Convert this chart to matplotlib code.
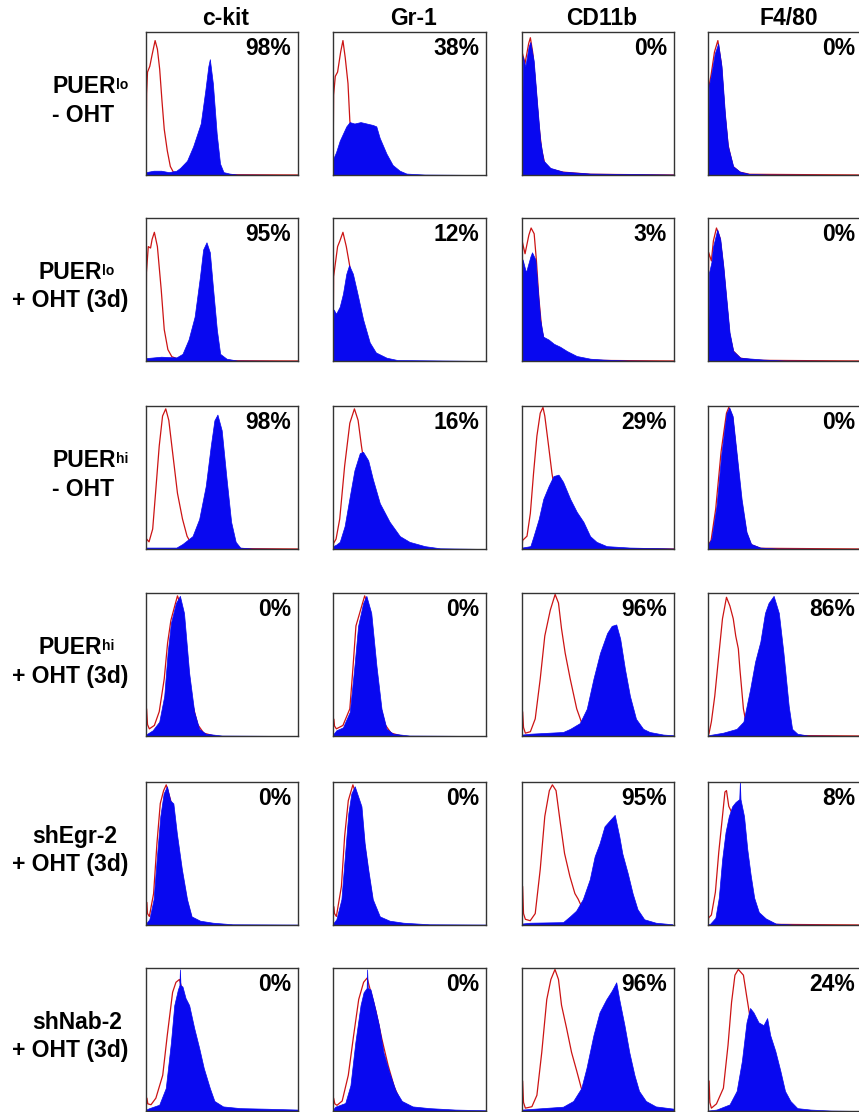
import matplotlib
matplotlib.use("Agg")
import matplotlib.pyplot as plt
from matplotlib.text import Annotation

plt.rcParams['font.family'] = ['Liberation Sans', 'DejaVu Sans']

# column markers and row conditions
markers = ["c-kit", "Gr-1", "CD11b", "F4/80"]
cond_main = ["PUER", "PUER", "PUER", "PUER", "shEgr-2", "shNab-2"]
cond_sup = ["lo", "lo", "hi", "hi", "", ""]
cond_treat = ["- OHT", "+ OHT (3d)", "- OHT", "+ OHT (3d)", "+ OHT (3d)", "+ OHT (3d)"]

# % positive per panel (rows x columns)
percents = [
    ["98%", "38%", "0%", "0%"],
    ["95%", "12%", "3%", "0%"],
    ["98%", "16%", "29%", "0%"],
    ["0%", "0%", "96%", "86%"],
    ["0%", "0%", "95%", "8%"],
    ["0%", "0%", "96%", "24%"],
]

# histograms: (channel %, counts % of max)
# iso = red isotype control outline, stain = blue filled stain
row1_iso = [
    [(0, 0), (0.4, 57), (1, 72), (2.5, 76), (4, 84), (6, 94), (7.5, 88), (9, 74), (10.5, 52), (12, 32), (14, 17), (16, 6), (18, 2), (22, 1), (40, 0.3), (100, 0)],
    [(0, 0), (0.4, 56), (1.5, 69), (3, 72), (5, 86), (6.5, 94), (8, 82), (9.8, 64), (11, 38), (13, 20), (16, 8), (20, 3), (25, 1), (40, 0)],
    [(0, 0), (0.3, 85), (2, 78), (4.4, 92), (5.5, 96), (7, 86), (9, 62), (11, 36), (13, 17), (15, 8), (19, 4), (27, 2), (45, 0.5), (100, 0)],
    [(0, 0), (0.3, 60), (2, 70), (4.2, 86), (6.4, 94), (8.6, 78), (10.8, 45), (13, 21), (16.2, 6), (20.6, 2), (27, 0.5), (100, 0)],
]
row1_stain = [
    [(0, 2), (5, 3), (10, 3), (15, 2), (20, 3), (22.5, 5), (27, 10), (31, 20), (36, 36), (39, 59), (41, 76), (42, 81), (44, 64), (46.5, 29), (48.7, 8), (51, 2), (55, 1), (60, 0.3), (100, 0)],
    [(0, 11), (2, 16), (4.4, 24), (8.7, 34), (10.9, 37), (14, 36), (18, 37), (22, 36), (26, 35), (28.3, 34), (30.5, 26), (34.9, 15), (39, 7), (43.6, 3), (48, 1), (60, 0.3), (100, 0)],
    [(0, 0), (0.5, 83), (2.2, 76), (4.4, 90), (5.5, 93), (7.7, 80), (9.8, 52), (12, 24), (14.2, 10), (18.6, 5), (27, 2.3), (45, 1), (100, 0.3)],
    [(0, 0), (0.5, 62), (2.2, 71), (4.4, 85), (6.6, 92), (8.8, 76), (11, 43), (13, 20), (16.4, 6), (20.8, 2.3), (27, 0.7), (40, 0.3), (100, 0)],
]
row2_iso = [
    [(0, 0), (0.3, 62), (1.5, 80), (3, 79), (4, 85), (5.5, 90), (7.5, 80), (10, 50), (12, 22), (14.4, 8), (17, 3), (22, 1), (40, 0.3), (100, 0)],
    [(0, 0), (0.4, 59), (3, 80), (4.5, 84), (6.5, 90), (8.7, 80), (11, 66), (13, 50), (16, 30), (20, 12), (25, 4), (30, 1), (40, 0)],
    [(0, 0), (0.3, 83), (2, 75), (4.5, 88), (6, 93), (8, 89), (9.5, 70), (11, 45), (13, 22), (15, 12), (20, 6), (30, 2), (40, 0.5), (100, 0)],
    [(0, 0), (0.4, 76), (2.2, 70), (3.5, 84), (5.5, 93), (7.8, 86), (10, 66), (12, 42), (14, 19), (16.4, 7), (21, 2), (30, 0.5), (100, 0)],
]
row2_stain = [
    [(0, 2), (10, 3), (20, 2.5), (24, 5), (28, 15), (32, 31), (35.5, 59), (37.6, 78), (39.8, 83), (42, 76), (44, 52), (46.6, 22), (48.8, 5), (53, 1.6), (60, 0.3), (100, 0)],
    [(0, 0), (0.4, 36), (2, 33), (4.4, 38), (6.5, 47), (8.7, 61), (10.5, 67), (13, 61), (16, 47), (19.7, 29), (24, 13), (28, 6), (35, 2.3), (42, 0.7), (100, 0)],
    [(0, 0), (0.4, 71), (2.6, 62), (5.5, 73), (6.6, 76), (8.8, 71), (10, 55), (12, 29), (14, 17), (17.5, 15), (21, 12), (25, 10), (29.5, 7), (36, 3.5), (45, 1.6), (53.6, 1), (70, 0.3), (100, 0)],
    [(0, 0), (0.7, 62), (2.2, 69), (3.3, 80), (6, 92), (8, 85), (10, 66), (12, 43), (14, 20), (16.4, 7), (21, 2.3), (36, 1), (50, 0.3), (100, 0)],
]
row3_iso = [
    [(0, 0), (0.4, 7), (2, 5), (4.4, 14), (6.5, 42), (8.7, 72), (10.9, 93), (13, 98), (15, 90), (17, 72), (20.7, 39), (24, 21), (27, 9), (30.6, 2), (35, 0.5), (100, 0)],
    [(0, 0), (0.4, 4), (2, 7), (4.4, 21), (7.6, 58), (11, 88), (14, 98), (16.4, 90), (18.6, 72), (21, 55), (24, 38), (28, 20), (33, 8), (38, 2), (45, 0)],
    [(0, 0), (0.4, 6), (3.3, 9), (5.5, 25), (7.6, 53), (9.8, 79), (12, 95), (13.8, 99), (15, 93), (17.5, 72), (19.7, 53), (22, 38), (25, 22), (29, 10), (34, 3), (40, 0.5), (100, 0)],
    [(0, 0), (0.3, 3), (2, 6), (5, 28), (8.5, 68), (12, 95), (13.5, 99), (16, 92), (18.5, 66), (21.5, 34), (25, 11), (28, 3), (34, 0.5), (100, 0)],
]
row3_stain = [
    [(0, 1), (20, 1), (24, 3.5), (30.6, 9), (35, 21), (39.3, 44), (42.6, 72), (45, 90), (47, 94), (49.8, 83), (53, 49), (56, 19), (59, 5), (62, 1), (70, 0.3), (100, 0)],
    [(0, 2), (2, 3), (4.4, 5), (7.6, 16), (11, 37), (14, 55), (17.5, 67), (19.6, 68), (23, 62), (26, 49), (30.6, 32), (37, 19), (43.7, 9), (50, 5), (60, 2), (70, 0.5), (100, 0)],
    [(0, 1), (5.5, 2), (7.6, 9), (11, 21), (14, 35), (17.5, 44), (20.7, 51), (24, 52), (27, 47), (31.7, 35), (36, 26), (40.4, 19), (44.8, 9), (49, 5), (55.7, 2), (71, 1), (93, 0.5), (100, 0.3)],
    [(0, 3), (2.2, 7), (5.5, 30), (8.7, 67), (12, 95), (13.8, 99), (16, 93), (18.6, 67), (21.8, 35), (25, 12), (28, 3.5), (34, 1), (45, 0.3), (100, 0)],
]
row4_iso = [
    [(0, 0), (0.4, 19), (1, 8), (2.2, 5), (5.5, 7.4), (8.7, 17), (12, 40), (14.2, 65), (16.4, 81), (20.7, 98), (24, 88), (27, 55), (30, 25), (34, 8), (38, 2), (45, 0)],
    [(0, 0), (0.4, 12), (1, 7), (2.2, 5), (6.5, 7.4), (11, 19), (13, 47), (15, 77), (20.7, 98), (24, 88), (27, 55), (30, 25), (34, 8), (38, 2), (45, 0)],
    [(0, 0), (0.4, 17), (1, 6), (2.2, 2), (5.5, 3), (8.7, 12), (12, 40), (15, 70), (18.6, 88), (21.8, 99), (24, 93), (26, 75), (28.4, 58), (31.7, 40), (36, 19), (39, 10), (43, 4), (48, 1), (55, 0)],
    [(0, 0), (0.7, 2), (2.2, 10), (4.4, 28), (6.6, 52), (9.4, 82), (12, 97), (14.2, 91), (16.4, 82), (18, 70), (19.7, 61), (20.7, 47), (23, 19), (25, 7.4), (28, 2), (33, 0.5), (100, 0)],
]
row4_stain = [
    [(0, 1), (4.4, 4), (8.7, 10), (12, 28), (14.2, 58), (16.4, 79), (19.7, 93), (22.3, 98), (25, 86), (28.4, 44), (31.7, 17), (35, 5), (39.3, 1.6), (50, 0.3), (100, 0)],
    [(0, 1), (2.2, 4), (6.5, 6), (11, 17), (14.2, 51), (16.4, 77), (19.7, 93), (21.8, 98), (25, 86), (28.4, 49), (31.7, 19), (35, 5), (39.3, 1.6), (50, 0.3), (100, 0)],
    [(0, 1), (5.5, 1.6), (27, 2.8), (31.7, 5), (38, 9), (42.6, 19), (47, 40), (51.3, 58), (56, 72), (59, 77), (62, 78), (64.6, 68), (67.7, 47), (71, 28), (75, 12), (79.7, 5), (84, 2.8), (93, 1), (100, 0.5)],
    [(0, 0.5), (9.8, 2.3), (18.6, 5), (23, 10), (27.4, 33), (30.6, 52), (34, 66), (37, 86), (39.3, 93), (42.6, 98), (46, 86), (49, 58), (52.4, 21), (54.6, 5), (58, 1.6), (65, 0.3), (100, 0)],
]
row5_iso = [
    [(0, 0), (0.4, 16), (1, 8), (2.2, 6), (5, 22), (7.2, 57), (9.4, 85), (11.6, 94), (13.3, 98), (16, 88), (18, 80), (20.3, 60), (23.6, 36), (27, 16), (30, 5), (35, 1), (45, 0)],
    [(0, 0), (0.4, 13), (1, 8), (2.2, 6), (5.5, 27), (7.6, 62), (10, 87), (13, 98), (16, 88), (18.5, 78), (20.7, 55), (23, 37), (26, 16), (30, 5), (35, 1), (45, 0)],
    [(0, 0), (0.4, 27), (1, 8), (2.2, 4), (5.4, 3), (8.7, 8), (12, 39), (15, 76), (18, 94), (20, 98), (22.4, 94), (25, 73), (28, 50), (31.5, 34), (34.8, 22), (37, 18), (40, 11), (44, 5), (50, 1), (60, 0)],
    [(0, 0), (0.4, 5), (2.2, 7), (4.8, 23), (7, 51), (9.2, 74), (11, 93), (12, 94), (13.5, 83), (15.3, 79), (17.5, 70), (20, 50), (23, 25), (26, 10), (30, 3), (36, 0.5), (100, 0)],
]
row5_stain = [
    [(0, 1), (2.2, 4), (5, 18), (7.2, 48), (9.4, 76), (11.6, 92), (13.8, 97), (16, 87), (18, 85), (20.3, 64), (23.6, 39), (27, 18), (30, 6), (35.6, 3), (44, 1.6), (57, 0.5), (100, 0.3)],
    [(0, 1), (2.2, 4), (5.5, 18), (7.6, 46), (10, 78), (12, 92), (14.2, 97), (16.4, 90), (18.6, 83), (20.7, 57), (23, 39), (26, 18), (30.6, 6), (37, 3), (46, 1.6), (63, 0.5), (100, 0.3)],
    [(0, 1), (5.4, 1.6), (27, 2), (31.5, 6), (35.6, 10), (40, 18), (44.6, 32), (47.8, 48), (51, 57), (54.3, 69), (57.6, 73), (61, 77), (64, 62), (66, 50), (69.6, 36), (72.8, 22), (76, 11), (80.4, 4), (88, 1.6), (99, 0.5)],
    [(0, 0.3), (1.5, 1), (4.8, 5), (7, 19), (9.2, 46), (11.4, 65), (13.5, 76), (15.7, 83), (17.9, 86), (20.3, 88), (20.7, 100), (21.1, 88), (23.4, 76), (25.5, 53), (27.7, 35), (30, 19), (33, 9), (37.5, 4.6), (44, 1), (55, 0.3), (100, 0)],
]
row6_iso = [
    [(0, 0), (0.6, 9), (1.2, 5), (3.3, 4.4), (6.5, 9), (11, 25), (14, 53), (17.5, 83), (19.7, 90), (22, 92), (25, 80), (28, 70), (32, 52), (36, 35), (40, 18), (44, 7), (50, 2), (60, 0)],
    [(0, 0), (0.4, 9), (1.2, 5), (2.6, 4), (6, 7), (10, 25), (13.5, 53), (16.8, 78), (20, 90), (22.3, 93), (25, 82), (28, 70), (32, 50), (36, 32), (40, 17), (44, 7), (50, 2), (60, 0)],
    [(0, 0), (0.4, 21), (1, 6), (2.2, 2), (6.5, 3), (9.8, 11), (13, 41), (16.3, 78), (19, 92), (21.7, 99), (24, 92), (26, 74), (29.3, 58), (32.6, 41), (36, 28), (39, 16), (43, 7), (48, 2), (55, 0)],
    [(0, 0), (0.7, 21), (1.2, 6), (2.2, 2), (5.5, 5), (10, 16), (13, 46), (15.3, 76), (17.5, 95), (19.7, 99), (23, 95), (25, 81), (28.4, 58), (30.6, 46), (33, 30), (36, 15), (40, 5), (45, 1), (55, 0)],
]
row6_stain = [
    [(0, 1), (2.2, 2), (8.7, 4.4), (13, 16), (16.4, 48), (18.6, 74), (21, 85), (22, 88), (22.3, 99), (22.7, 88), (24, 87), (26, 79), (28.4, 74), (31.7, 58), (35, 44), (38, 30), (42, 16), (45, 7), (50.7, 3.2), (62, 2), (79, 1.6), (100, 1)],
    [(0, 1), (1.5, 3), (8, 5.6), (11.4, 18), (14.6, 48), (18, 74), (20, 83), (22, 86), (22.3, 99), (22.7, 86), (24.5, 85), (26.6, 76), (30, 60), (33, 41), (36.5, 28), (41, 14), (45, 7), (52, 3.2), (63, 2), (80, 1), (100, 0.5)],
    [(0, 1), (27, 3), (33.7, 7), (39, 16), (42.4, 30), (47, 53), (51, 69), (55.4, 78), (59, 84), (62, 90), (64, 78), (67.4, 60), (70.6, 41), (74, 25), (77, 14), (81.5, 7), (88, 3.2), (100, 1.6)],
    [(0, 0.3), (5.5, 1), (14, 4.6), (18.6, 14), (22, 35), (25, 62), (27.3, 72), (29.5, 69), (32.8, 62), (36, 60), (38.4, 65), (40.4, 53), (43.7, 42), (47, 28), (50, 14), (53.5, 7), (58, 2), (66.6, 1), (80, 0.3), (100, 0)],
]

iso_rows = [row1_iso, row2_iso, row3_iso, row4_iso, row5_iso, row6_iso]
stain_rows = [row1_stain, row2_stain, row3_stain, row4_stain, row5_stain, row6_stain]

# layout in pixels of the 859x1112 picture
FW, FH = 859, 1112
col_left = [146, 333, 522, 708]
col_w = [152, 153, 152, 154]
row_top = [32, 218, 406, 593, 782, 968]
row_h = 143
line1_left = [52, 38, 52, 38, 32, 32]
line2_left = [52, 12, 52, 12, 12, 12]

BLUE = "#0808f0"
RED = "#cc1414"
FS = 16.5

fig = plt.figure(figsize=(FW / 100, FH / 100), dpi=100)

for r in range(6):
    for c in range(4):
        ax = fig.add_axes([col_left[c] / FW, 1 - (row_top[r] + row_h) / FH,
                           col_w[c] / FW, row_h / FH])
        xr, yr = zip(*iso_rows[r][c])
        xb, yb = zip(*stain_rows[r][c])
        ax.plot(xr, yr, color=RED, lw=0.9, zorder=2)
        ax.fill_between(xb, yb, 0, color=BLUE, lw=0.5, zorder=3)
        ax.set_xlim(0, 100)
        ax.set_ylim(0, 100)
        ax.set_xticks([])
        ax.set_yticks([])
        for s in ax.spines.values():
            s.set_color("#333333")
            s.set_linewidth(1.0)
            s.set_zorder(4)
        ax.text(0.955, 0.838, percents[r][c], transform=ax.transAxes,
                ha="right", va="baseline", fontsize=FS, fontweight="bold", zorder=5)

# column titles
for c in range(4):
    xc = (col_left[c] + col_w[c] / 2 + 4) / FW
    fig.text(xc, 1 - 25 / FH, markers[c], ha="center", va="baseline",
             fontsize=FS, fontweight="bold")

# row labels
for r in range(6):
    yc = row_top[r] + row_h / 2
    t1 = fig.text(line1_left[r] / FW, 1 - (yc - 10.5) / FH, cond_main[r],
                  ha="left", va="baseline", fontsize=FS, fontweight="bold")
    if cond_sup[r]:
        sup = Annotation(cond_sup[r], xy=(1, 1), xycoords=t1,
                         xytext=(0.5, -2.5), textcoords="offset points",
                         ha="left", va="top", fontsize=10, fontweight="bold")
        fig.add_artist(sup)
    fig.text(line2_left[r] / FW, 1 - (yc + 18) / FH, cond_treat[r],
             ha="left", va="baseline", fontsize=FS, fontweight="bold")

fig.savefig("out.png", dpi=100)
